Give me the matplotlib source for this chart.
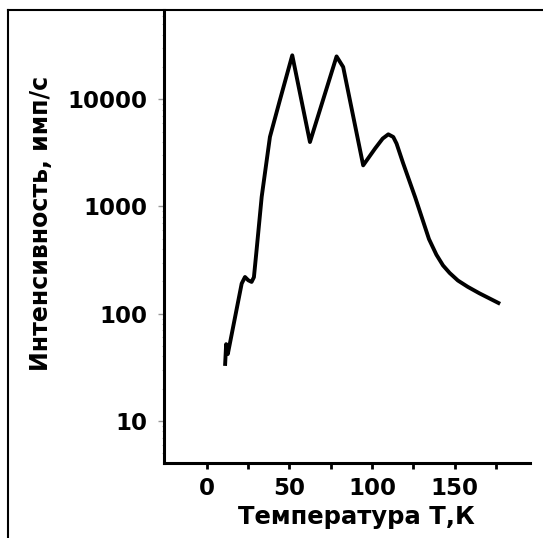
import numpy as np
import matplotlib.pyplot as plt
from matplotlib.lines import Line2D
from matplotlib.ticker import FixedLocator, NullFormatter, LogLocator

# temperature (K) and intensity (counts/s)
temperature = [11.2, 11.8, 12.8, 21.2, 23.2, 25.2, 27.2, 28.6, 30.2, 33.3,
               38.3, 44.3, 51.8, 62.5, 78.6, 82.6, 94.7, 102.0, 106.5, 109.9,
               112.9, 114.9, 118.8, 126.2, 134.5, 139.0, 143.0, 147.0, 152.0,
               158.0, 165.0, 176.5]
intensity = [34, 52, 42, 191, 220, 205, 198, 219, 390, 1230,
             4460, 9800, 25700, 3990, 25100, 20000, 2420, 3490, 4300, 4710,
             4450, 3860, 2550, 1213, 497, 355, 282, 240, 204,
             178, 155, 126]

xticks_major = [0, 50, 100, 150]
xticks_minor = [25, 75, 125, 175]
yticks = [10, 100, 1000, 10000]
ytick_labels = ["10", "100", "1000", "10000"]

plt.rcParams["font.family"] = ["DejaVu Sans"]
plt.rcParams["font.weight"] = "bold"

fig = plt.figure(figsize=(5.43, 5.38), dpi=100)
ax = fig.add_axes([0.302, 0.140, 0.674, 0.8414])

ax.plot(temperature, intensity, color="black", lw=2.8, solid_joinstyle="round")

ax.set_yscale("log")
ax.set_xlim(-25.8, 195.6)
ax.set_ylim(4.08, 68000)

ax.spines["top"].set_visible(False)
ax.spines["right"].set_visible(False)
for s in ("left", "bottom"):
    ax.spines[s].set_linewidth(2.2)
    ax.spines[s].set_color("black")

ax.xaxis.set_major_locator(FixedLocator(xticks_major))
ax.xaxis.set_minor_locator(FixedLocator(xticks_minor))
ax.set_xticklabels([str(v) for v in xticks_major])
ax.tick_params(axis="x", which="both", direction="out", length=4, width=2,
               color="black", pad=6, labelsize=16.5)

ax.yaxis.set_major_locator(FixedLocator(yticks))
ax.set_yticklabels(ytick_labels)
ax.yaxis.set_minor_locator(LogLocator(base=10, subs=np.arange(2, 10)))
ax.yaxis.set_minor_formatter(NullFormatter())
ax.tick_params(axis="y", which="major", direction="out", length=4, width=1,
               color="#999999", pad=8, labelsize=16.5)
ax.tick_params(axis="y", which="minor", direction="out", length=1.5,
               width=0.8, color="#bbbbbb")

for lbl in ax.get_xticklabels() + ax.get_yticklabels():
    lbl.set_fontweight("bold")

ax.set_xlabel("Температура Т,К", fontsize=17.5, fontweight="bold")
ax.xaxis.set_label_coords(0.525, -0.12)
ax.xaxis.label.set_va("center")
ax.set_ylabel("Интенсивность, имп/с", fontsize=17, fontweight="bold")
ax.yaxis.set_label_coords(-0.335, 0.528)
ax.yaxis.label.set_va("center")

# frame of the original figure (only top and left edges visible)
fig.add_artist(Line2D([8 / 543, 8 / 543], [0, 1 - 9.5 / 538],
                      transform=fig.transFigure, color="black", lw=1.5))
fig.add_artist(Line2D([8 / 543, 1], [1 - 9.5 / 538, 1 - 9.5 / 538],
                      transform=fig.transFigure, color="black", lw=1.5))

fig.savefig("out.png", dpi=100)
